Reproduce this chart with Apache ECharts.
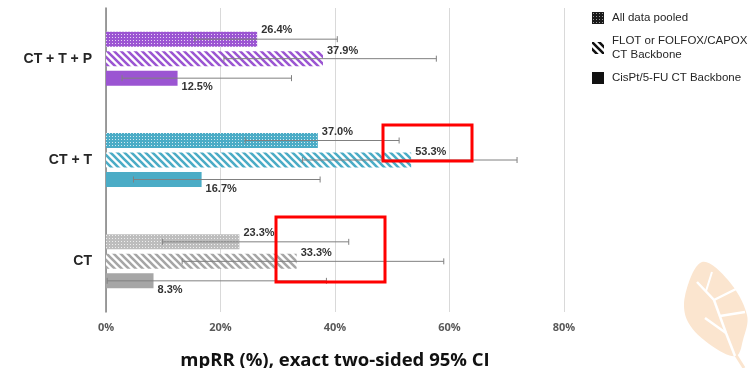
<!DOCTYPE html>
<html>
<head>
<meta charset="utf-8">
<script src="https://cdn.jsdelivr.net/npm/echarts@6/dist/echarts.min.js"></script>
<style>
  html, body { margin: 0; padding: 0; background: #ffffff; }
  #chart { width: 754px; height: 368px; }
</style>
</head>
<body>
<div id="chart"></div>
<script>
// Regimens, bottom to top on the category axis
const categories = ['CT', 'CT + T', 'CT + T + P'];

// Major pathological response rate (%) per regimen
const pooledValues = [23.3, 37.0, 26.4];
const flotValues = [33.3, 53.3, 37.9];
const cispValues = [8.3, 16.7, 12.5];

// Exact two-sided 95% confidence limits (%)
const pooledLow = [9.9, 24.3, 15.5];
const pooledHigh = [42.4, 51.2, 40.4];
const flotLow = [13.3, 34.3, 20.6];
const flotHigh = [59.0, 71.8, 57.7];
const cispLow = [0.2, 4.8, 2.8];
const cispHigh = [38.5, 37.4, 32.4];

const seriesNames = ['All data pooled', 'FLOT or FOLFOX/CAPOX\nCT Backbone', 'CisPt/5-FU CT Backbone'];
const xTicks = [0, 20, 40, 60, 80];

// Colours per regimen
const solidColors = ['#a6a6a6', '#4bacc6', '#9b55d2'];
const pooledBase = ['#bdbdbd', '#4bacc6', '#9b55d2'];

// fine dotted fill: one light pixel per 3x3 cell
function dotPattern(base, dot) {
  const c = document.createElement('canvas');
  c.width = 3; c.height = 3;
  const g = c.getContext('2d');
  g.fillStyle = base; g.fillRect(0, 0, 3, 3);
  g.fillStyle = dot;
  g.fillRect(1, 1, 1, 1);
  return { image: c, repeat: 'repeat' };
}

// backslash-direction diagonal stripes
function hatchPattern(color, bg) {
  const n = 7;
  const c = document.createElement('canvas');
  c.width = n; c.height = n;
  const g = c.getContext('2d');
  g.fillStyle = bg; g.fillRect(0, 0, n, n);
  g.strokeStyle = color; g.lineWidth = 2.6;
  g.beginPath();
  for (let k = -1; k <= 1; k++) {
    g.moveTo(k * n - 1, -1);
    g.lineTo(k * n + n + 1, n + 1);
  }
  g.stroke();
  return { image: c, repeat: 'repeat' };
}

const pooledFills = pooledBase.map(c => dotPattern(c, 'rgba(255,255,255,0.75)'));
const flotFills = solidColors.map(c => hatchPattern(c, '#ffffff'));

const labelStyle = {
  show: true,
  position: 'right',
  distance: 4,
  fontFamily: 'Liberation Sans, Arial, sans-serif',
  fontWeight: 'bold',
  fontSize: 11,
  color: '#333333',
  formatter: p => p.value.toFixed(1) + '%'
};

function barSeries(name, values, fills, dy) {
  return {
    name: name,
    type: 'bar',
    barWidth: 15,
    barGap: '30%',
    data: values.map((v, i) => ({ value: v, itemStyle: { color: fills[i] } })),
    label: Object.assign({}, labelStyle, { offset: [0, dy] }),
    z: 2
  };
}

// Confidence-interval whiskers drawn over each bar
function whiskerSeries(low, high, barShift) {
  return {
    type: 'custom',
    silent: true,
    z: 5,
    data: low.map((l, i) => [l, high[i], i]),
    renderItem: function (params, api) {
      const a = api.coord([api.value(0), api.value(2)]);
      const b = api.coord([api.value(1), api.value(2)]);
      const y = a[1] + barShift;
      const h = 3;
      const st = { stroke: '#808080', lineWidth: 1 };
      return {
        type: 'group',
        children: [
          { type: 'line', shape: { x1: a[0], y1: y, x2: b[0], y2: y }, style: st },
          { type: 'line', shape: { x1: a[0], y1: y - h, x2: a[0], y2: y + h }, style: st },
          { type: 'line', shape: { x1: b[0], y1: y - h, x2: b[0], y2: y + h }, style: st }
        ]
      };
    }
  };
}

const legendIcons = [
  dotPattern('#1a1a1a', '#9a9a9a'),
  hatchPattern('#111111', '#ffffff'),
  '#111111'
];

const chart = echarts.init(document.getElementById('chart'), null, { renderer: 'canvas' });

chart.setOption({
  animation: false,
  backgroundColor: '#ffffff',
  grid: { left: 106, right: 190, top: 8, bottom: 56, containLabel: false, outerBoundsMode: 'none' },
  legend: {
    orient: 'vertical',
    left: 587,
    top: 6,
    itemWidth: 12,
    itemHeight: 12,
    itemGap: 9,
    icon: 'rect',
    data: seriesNames.map((n, i) => ({ name: n, itemStyle: { color: legendIcons[i] } })),
    textStyle: {
      fontFamily: 'Liberation Sans, Arial, sans-serif',
      fontSize: 11.5,
      color: '#262626',
      lineHeight: 14,
      padding: [0, 0, 0, 3]
    }
  },
  xAxis: {
    type: 'value',
    min: xTicks[0],
    max: xTicks[xTicks.length - 1],
    interval: xTicks[1] - xTicks[0],
    axisLine: { show: false },
    axisTick: { show: false },
    splitLine: { lineStyle: { color: '#d9d9d9', width: 1 } },
    axisLabel: {
      formatter: '{value}%',
      margin: 10,
      fontFamily: 'Open Sans, sans-serif',
      fontWeight: 'bold',
      fontSize: 11,
      color: '#595959'
    },
    name: 'mpRR (%), exact two-sided 95% CI',
    nameLocation: 'middle',
    nameGap: 39,
    nameTextStyle: {
      fontFamily: 'Open Sans, sans-serif',
      fontWeight: 'bold',
      fontSize: 18.5,
      color: '#111111'
    }
  },
  yAxis: {
    type: 'category',
    data: categories,
    axisLine: { show: true, lineStyle: { color: '#7f7f7f', width: 1.5 } },
    axisTick: { show: false },
    axisLabel: {
      margin: 14,
      fontFamily: 'Liberation Sans, Arial, sans-serif',
      fontWeight: 'bold',
      fontSize: 14,
      color: '#262626'
    }
  },
  series: [
    barSeries(seriesNames[0], pooledValues, pooledFills, -9),
    barSeries(seriesNames[1], flotValues, flotFills, -8),
    barSeries(seriesNames[2], cispValues, solidColors, 9),
    whiskerSeries(pooledLow, pooledHigh, -19.5),
    whiskerSeries(flotLow, flotHigh, 0),
    whiskerSeries(cispLow, cispHigh, 19.5)
  ],
  graphic: [
    // highlight boxes
    { type: 'rect', shape: { x: 383, y: 125, width: 89, height: 36 },
      style: { fill: 'none', stroke: '#ff0000', lineWidth: 3 }, z: 20 },
    { type: 'rect', shape: { x: 276, y: 217, width: 109, height: 65 },
      style: { fill: 'none', stroke: '#ff0000', lineWidth: 3 }, z: 20 },
    // leaf emblem
    { type: 'group', z: 0, children: [
      { type: 'polygon', shape: { smooth: 0.35, points: [[702, 262], [728, 280], [747, 315], [743, 340], [736, 356], [712, 346], [688, 322], [685, 296]] },
        style: { fill: '#fbe5cf' } },
      { type: 'line', shape: { x1: 734, y1: 352, x2: 744, y2: 368 }, style: { stroke: '#fbe5cf', lineWidth: 3 } },
      { type: 'polyline', shape: { points: [[697, 282], [714, 300], [726, 333], [735, 356]] }, style: { stroke: '#ffffff', lineWidth: 2.5, fill: 'none' } },
      { type: 'line', shape: { x1: 714, y1: 300, x2: 736, y2: 289 }, style: { stroke: '#ffffff', lineWidth: 2.5 } },
      { type: 'line', shape: { x1: 720, y1: 316, x2: 745, y2: 312 }, style: { stroke: '#ffffff', lineWidth: 2.5 } },
      { type: 'line', shape: { x1: 726, y1: 333, x2: 705, y2: 318 }, style: { stroke: '#ffffff', lineWidth: 2.5 } },
      { type: 'line', shape: { x1: 706, y1: 291, x2: 712, y2: 272 }, style: { stroke: '#ffffff', lineWidth: 2 } }
    ] }
  ]
});
</script>
</body>
</html>
